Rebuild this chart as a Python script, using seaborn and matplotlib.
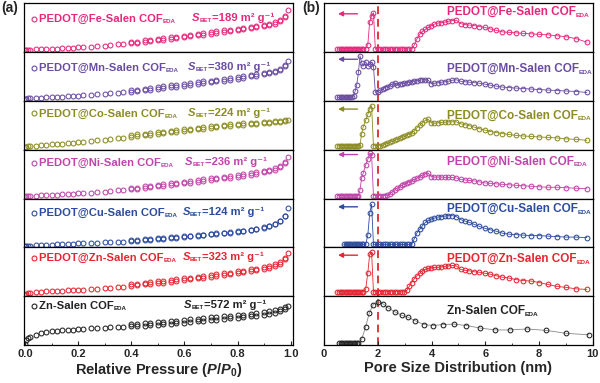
import numpy as np
import seaborn as sns
from matplotlib import pyplot as plt
from matplotlib.ticker import MultipleLocator

# ---- (a) N2 isotherms, relative pressure and uptake (normalised per panel) ----
pressure = [0.001, 0.005, 0.01, 0.02, 0.04, 0.06, 0.08, 0.10, 0.12, 0.14, 0.16, 0.18,
            0.20, 0.22, 0.25, 0.27, 0.30, 0.32, 0.35, 0.37, 0.40, 0.42, 0.45, 0.47,
            0.50, 0.52, 0.55, 0.57, 0.60, 0.62, 0.65, 0.67, 0.70, 0.72, 0.75, 0.77,
            0.80, 0.82, 0.85, 0.87, 0.90, 0.92, 0.94, 0.96, 0.98, 0.99]
des_pressure = [0.40, 0.42, 0.45, 0.47, 0.50, 0.52, 0.55, 0.57, 0.60, 0.62, 0.65, 0.67,
                0.70, 0.72, 0.75, 0.77, 0.80, 0.82, 0.85, 0.87, 0.90, 0.92, 0.94, 0.96, 0.98]

fe_ads = [0.03, 0.035, 0.04, 0.045, 0.05, 0.055, 0.06, 0.065, 0.07, 0.075, 0.08, 0.09,
          0.095, 0.10, 0.11, 0.12, 0.13, 0.14, 0.155, 0.165, 0.18, 0.19, 0.21, 0.22,
          0.24, 0.25, 0.27, 0.285, 0.305, 0.32, 0.34, 0.355, 0.375, 0.39, 0.41, 0.425,
          0.445, 0.46, 0.485, 0.50, 0.53, 0.55, 0.58, 0.63, 0.72, 0.85]
fe_des = [0.20, 0.21, 0.235, 0.25, 0.27, 0.28, 0.30, 0.315, 0.335, 0.35, 0.37, 0.385,
          0.405, 0.42, 0.44, 0.455, 0.475, 0.49, 0.515, 0.53, 0.56, 0.58, 0.61, 0.66, 0.74]
mn_ads = [0.04, 0.045, 0.05, 0.055, 0.06, 0.065, 0.07, 0.075, 0.08, 0.085, 0.09, 0.10,
          0.105, 0.11, 0.12, 0.13, 0.14, 0.15, 0.165, 0.175, 0.19, 0.20, 0.22, 0.23,
          0.25, 0.26, 0.28, 0.29, 0.31, 0.325, 0.345, 0.36, 0.38, 0.395, 0.415, 0.43,
          0.455, 0.47, 0.50, 0.515, 0.545, 0.565, 0.59, 0.63, 0.71, 0.82]
mn_des = [0.215, 0.225, 0.25, 0.26, 0.285, 0.295, 0.315, 0.325, 0.345, 0.36, 0.38, 0.395,
          0.415, 0.43, 0.45, 0.465, 0.49, 0.505, 0.53, 0.545, 0.57, 0.59, 0.615, 0.655, 0.73]
co_ads = [0.05, 0.06, 0.065, 0.07, 0.08, 0.09, 0.10, 0.11, 0.12, 0.125, 0.135, 0.145,
          0.155, 0.165, 0.18, 0.19, 0.205, 0.215, 0.235, 0.245, 0.265, 0.275, 0.29, 0.30,
          0.325, 0.335, 0.355, 0.365, 0.385, 0.395, 0.415, 0.425, 0.445, 0.455, 0.475, 0.485,
          0.50, 0.51, 0.52, 0.53, 0.54, 0.55, 0.56, 0.575, 0.595, 0.61]
co_des = [0.30, 0.31, 0.33, 0.34, 0.36, 0.37, 0.39, 0.40, 0.42, 0.43, 0.45, 0.46,
          0.48, 0.49, 0.505, 0.515, 0.53, 0.54, 0.55, 0.555, 0.565, 0.57, 0.58, 0.59, 0.60]
ni_ads = [0.04, 0.045, 0.05, 0.055, 0.06, 0.065, 0.07, 0.075, 0.08, 0.085, 0.09, 0.10,
          0.105, 0.11, 0.12, 0.13, 0.14, 0.15, 0.165, 0.175, 0.19, 0.20, 0.22, 0.23,
          0.25, 0.26, 0.28, 0.29, 0.31, 0.32, 0.34, 0.355, 0.375, 0.39, 0.41, 0.425,
          0.45, 0.465, 0.49, 0.505, 0.535, 0.555, 0.59, 0.64, 0.72, 0.84]
ni_des = [0.215, 0.225, 0.25, 0.26, 0.285, 0.295, 0.315, 0.325, 0.345, 0.355, 0.375, 0.39,
          0.41, 0.425, 0.445, 0.46, 0.485, 0.50, 0.525, 0.54, 0.565, 0.585, 0.615, 0.66, 0.74]
cu_ads = [0.02, 0.025, 0.03, 0.035, 0.04, 0.045, 0.05, 0.055, 0.06, 0.065, 0.07, 0.075,
          0.08, 0.085, 0.09, 0.095, 0.10, 0.105, 0.115, 0.12, 0.135, 0.14, 0.155, 0.16,
          0.175, 0.18, 0.195, 0.20, 0.215, 0.225, 0.24, 0.25, 0.265, 0.275, 0.29, 0.30,
          0.32, 0.33, 0.355, 0.37, 0.40, 0.43, 0.47, 0.53, 0.64, 0.81]
cu_des = [0.145, 0.15, 0.165, 0.17, 0.185, 0.19, 0.205, 0.21, 0.225, 0.235, 0.25, 0.26,
          0.275, 0.285, 0.30, 0.31, 0.33, 0.34, 0.365, 0.38, 0.41, 0.44, 0.48, 0.54, 0.65]
zn_ads = [0.02, 0.04, 0.06, 0.075, 0.09, 0.095, 0.10, 0.105, 0.11, 0.115, 0.12, 0.125,
          0.13, 0.135, 0.145, 0.15, 0.16, 0.17, 0.185, 0.195, 0.21, 0.22, 0.24, 0.25,
          0.27, 0.28, 0.30, 0.31, 0.33, 0.345, 0.365, 0.38, 0.40, 0.415, 0.435, 0.45,
          0.475, 0.49, 0.515, 0.53, 0.56, 0.585, 0.615, 0.66, 0.76, 0.89]
zn_des = [0.245, 0.255, 0.275, 0.285, 0.305, 0.315, 0.335, 0.345, 0.365, 0.38, 0.40, 0.415,
          0.435, 0.45, 0.47, 0.485, 0.51, 0.525, 0.55, 0.565, 0.595, 0.62, 0.65, 0.70, 0.78]
znsalen_ads = [0.03, 0.10, 0.14, 0.17, 0.21, 0.24, 0.26, 0.28, 0.29, 0.30, 0.31, 0.315,
               0.32, 0.33, 0.34, 0.345, 0.355, 0.36, 0.37, 0.375, 0.385, 0.39, 0.40, 0.41,
               0.42, 0.43, 0.44, 0.45, 0.46, 0.47, 0.485, 0.495, 0.51, 0.52, 0.535, 0.545,
               0.56, 0.57, 0.59, 0.60, 0.625, 0.64, 0.66, 0.69, 0.74, 0.80]
znsalen_des = [0.425, 0.435, 0.445, 0.455, 0.47, 0.48, 0.49, 0.50, 0.515, 0.525, 0.54, 0.55,
               0.565, 0.575, 0.59, 0.60, 0.615, 0.625, 0.64, 0.655, 0.675, 0.69, 0.71, 0.74, 0.78]

# ---- (b) pore size distributions ----
pore_width = [0.50, 0.56, 0.62, 0.68, 0.74, 0.80, 0.86, 0.92, 0.98, 1.04, 1.10, 1.16, 1.22, 1.28, 1.34, 1.40, 1.46,
              1.55, 1.63, 1.70, 1.77, 1.84,
              1.91, 2.00, 2.09, 2.18, 2.27, 2.36, 2.45, 2.54, 2.63, 2.72, 2.81, 2.90, 2.99, 3.08, 3.17, 3.26,
              3.36, 3.46, 3.56, 3.66, 3.77, 3.88, 3.99, 4.11, 4.23, 4.36, 4.49, 4.63, 4.77, 4.92,
              5.08, 5.24, 5.41, 5.59, 5.78, 5.98, 6.19, 6.41, 6.64, 6.89, 7.15, 7.42, 7.71, 8.01, 8.33,
              8.67, 9.02, 9.39, 9.78]
nan = np.nan
fe_psd = [0.06, 0.06, 0.06, 0.06, 0.06, 0.06, 0.06, 0.06, 0.06, 0.06, 0.06, 0.06, 0.06, 0.06, 0.06, 0.06, 0.06,
          0.07, 0.15, 0.62, 0.74, 0.80,
          0.06, 0.06, 0.06, 0.06, 0.06, 0.06, 0.06, 0.06, 0.06, 0.06, 0.06, 0.06, 0.06, 0.06, 0.06, 0.06,
          0.14, 0.27, 0.36, 0.42, 0.46, 0.50, 0.54, 0.57, 0.59, 0.60, 0.61, 0.63, 0.64, 0.65,
          0.58, 0.56, 0.55, 0.54, 0.52, 0.50, 0.47, 0.44, 0.41, 0.40, 0.39, 0.38, 0.37, 0.36, 0.35,
          0.33, 0.31, 0.27, 0.20]
mn_psd = [0.07, 0.07, 0.07, 0.07, 0.07, 0.07, 0.07, 0.07, 0.07, 0.07, 0.10, 0.20, 0.33, 0.58, 0.92, 0.78, 0.72,
          0.80, 0.72, 0.75, 0.79, 0.70,
          0.17, 0.19, 0.22, 0.24, 0.27, 0.29, 0.31, 0.34, 0.37, 0.33, 0.34, 0.35, 0.36, 0.37, 0.38, 0.39,
          0.40, 0.41, 0.42, 0.43, 0.43, 0.42, 0.35, 0.36, 0.37, 0.38, 0.39, 0.40, 0.42, 0.43,
          0.40, 0.39, 0.38, 0.37, 0.36, 0.34, 0.32, 0.30, 0.28, 0.27, 0.26, 0.25, 0.24, 0.23, 0.22,
          0.21, 0.20, 0.19, 0.17]
co_psd = [0.08, 0.08, 0.08, 0.08, 0.08, 0.08, 0.08, 0.08, 0.08, 0.08, 0.08, 0.08, 0.08, 0.08, 0.10, 0.32, 0.47,
          0.60, 0.72, 0.84, 0.90, 0.08,
          0.08, 0.08, 0.08, 0.09, 0.11, 0.13, 0.15, 0.17, 0.19, 0.21, 0.23, 0.25, 0.27, 0.30, 0.32, 0.35,
          0.39, 0.45, 0.50, 0.55, 0.60, 0.62, 0.55, 0.54, 0.55, 0.56, 0.56, 0.57, 0.57, 0.57,
          0.53, 0.51, 0.49, 0.46, 0.43, 0.40, 0.37, 0.35, 0.33, 0.31, 0.29, 0.28, 0.27, 0.26, 0.25,
          0.24, 0.22, 0.21, 0.19]
ni_psd = [0.06, 0.06, 0.06, 0.06, 0.06, 0.06, 0.06, 0.06, 0.06, 0.06, 0.06, 0.06, 0.06, 0.06, 0.18, 0.42, 0.52,
          0.69, 0.80, 0.93, 0.90, 0.06,
          0.06, 0.06, 0.06, 0.06, 0.06, 0.07, 0.10, 0.14, 0.18, 0.21, 0.24, 0.27, 0.30, 0.32, 0.34, 0.36,
          0.39, 0.42, 0.45, 0.48, 0.51, 0.52, 0.45, 0.44, 0.44, 0.44, 0.43, 0.43, 0.43, 0.42,
          0.39, 0.38, 0.37, 0.36, 0.34, 0.32, 0.31, 0.30, 0.29, 0.28, 0.27, 0.26, 0.25, 0.24, 0.23,
          0.23, 0.22, 0.21, 0.20]
cu_psd = [nan, nan, nan, nan, 0.06, 0.06, 0.06, 0.06, 0.06, 0.06, 0.06, 0.06, 0.06, 0.06, 0.06, 0.06, 0.06,
          0.06, 0.25, 0.70, 0.88, 0.06,
          0.06, 0.06, 0.06, 0.06, 0.06, 0.06, 0.06, 0.06, 0.06, 0.06, 0.06, 0.06, 0.06, 0.06, 0.06, 0.06,
          0.18, 0.30, 0.37, 0.44, 0.51, 0.55, 0.58, 0.60, 0.62, 0.63, 0.64, 0.65, 0.65, 0.63,
          0.57, 0.54, 0.51, 0.47, 0.43, 0.39, 0.36, 0.33, 0.29, 0.27, 0.26, 0.25, 0.24, 0.24, 0.23,
          0.22, 0.21, 0.21, 0.20]
zn_psd = [0.09, 0.09, 0.09, 0.09, 0.09, 0.09, 0.09, 0.09, 0.09, 0.09, 0.09, 0.09, 0.09, 0.09, 0.09, 0.09, 0.09,
          0.14, 0.48, 0.86, 0.90, 0.09,
          0.09, 0.09, 0.09, 0.09, 0.09, 0.09, 0.09, 0.09, 0.09, 0.09, 0.09, 0.09, 0.09, 0.12, 0.20, 0.28,
          0.36, 0.42, 0.47, 0.52, 0.55, 0.57, 0.58, 0.59, 0.59, 0.60, 0.61, 0.62, 0.63, 0.62,
          0.55, 0.53, 0.52, 0.50, 0.49, 0.47, 0.45, 0.42, 0.39, 0.37, 0.34, 0.32, 0.31, 0.28, 0.24,
          0.20, 0.18, 0.15, 0.14]
znsalen_width = [0.56, 0.62, 0.68, 0.74, 0.80, 0.86, 0.92, 0.98, 1.04, 1.10, 1.16, 1.22, 1.28,
                 1.40, 1.55, 1.68, 1.83, 2.00, 2.18, 2.39, 2.64, 2.89, 3.13, 3.38, 3.72, 4.06,
                 4.43, 4.83, 5.30, 5.80, 6.36, 6.91, 7.56, 8.27, 9.02, 9.86]
znsalen_psd = [0.04, 0.04, 0.04, 0.04, 0.04, 0.04, 0.04, 0.04, 0.04, 0.04, 0.04, 0.04, 0.04,
               0.12, 0.37, 0.65, 0.83, 0.89, 0.85, 0.76, 0.68, 0.61, 0.57, 0.50, 0.42, 0.40,
               0.42, 0.43, 0.40, 0.35, 0.31, 0.31, 0.33, 0.30, 0.24, 0.21]

samples = ['PEDOT@Fe-Salen COF', 'PEDOT@Mn-Salen COF', 'PEDOT@Co-Salen COF', 'PEDOT@Ni-Salen COF',
           'PEDOT@Cu-Salen COF', 'PEDOT@Zn-Salen COF', 'Zn-Salen COF']
s_bet = [189, 380, 224, 236, 124, 323, 572]
ads = [fe_ads, mn_ads, co_ads, ni_ads, cu_ads, zn_ads, znsalen_ads]
des = [fe_des, mn_des, co_des, ni_des, cu_des, zn_des, znsalen_des]
psd_x = [pore_width] * 6 + [znsalen_width]
psd_y = [fe_psd, mn_psd, co_psd, ni_psd, cu_psd, zn_psd, znsalen_psd]

colors = ['#E6287D', '#6A4CA2', '#8C8C22', '#C044A9', '#2D4C9F', '#E52530', '#222222']
line_colors = colors[:6] + ['#888888']
label_y_a = [0.67, 0.68, 0.74, 0.73, 0.71, 0.79, 0.80]
sbet_x = [0.625, 0.61, 0.61, 0.60, 0.59, 0.59, 0.595]
label_y_b = [0.82, 0.65, 0.70, 0.76, 0.78, 0.76, 0.69]
arrow_y = [0.78, 0.85, 0.83, 0.90, 0.83, 0.84]


def sub_text(ax, x, y, main, sub, color, size, transform, style='normal'):
    # main text followed by a small bold subscript
    t = ax.text(x, y, main, color=color, fontsize=size, fontweight='bold', fontstyle=style,
                va='center', ha='left', transform=transform)
    s = ax.annotate(sub, xy=(1, 0), xycoords=t, color=color, fontsize=size * 0.55,
                    fontweight='bold', va='bottom', ha='left')
    return t, s


sns.set_theme(style='ticks')
plt.rcParams['font.family'] = ['Liberation Sans', 'DejaVu Sans']
plt.rcParams['font.weight'] = 'bold'
plt.rcParams['mathtext.fontset'] = 'custom'
plt.rcParams['mathtext.rm'] = 'Liberation Sans:bold'
plt.rcParams['mathtext.it'] = 'Liberation Sans:bold:italic'
plt.rcParams['axes.edgecolor'] = 'black'
plt.rcParams['axes.linewidth'] = 0.9

fig = plt.figure(figsize=(6, 3.83), dpi=100)
gs_a = fig.add_gridspec(7, 1, left=0.04, right=0.488, top=0.992, bottom=0.099, hspace=0)
gs_b = fig.add_gridspec(7, 1, left=0.54, right=0.988, top=0.992, bottom=0.099, hspace=0)

for i in range(7):
    c = colors[i]
    # isotherm panel
    ax = fig.add_subplot(gs_a[i])
    for xs, ys in [(pressure, ads[i]), (des_pressure, des[i])]:
        sns.lineplot(x=xs, y=ys, ax=ax, estimator=None, sort=False, linestyle='none',
                     marker='o', markersize=3.5, markerfacecolor='none',
                     markeredgecolor=c, markeredgewidth=0.75, color=c)
    ax.set_xlim(-0.004, 1.008)
    ax.set_ylim(0, 1)
    ax.set_yticks([])
    ax.set_xlabel('')
    ax.set_ylabel('')
    ax.plot([0.036], [label_y_a[i]], 'o', transform=ax.transAxes, mfc='none', mec=c, ms=3.5, mew=0.8)
    sub_text(ax, 0.055, label_y_a[i], samples[i], 'EDA', c, 8.1, ax.transAxes)
    t, s = sub_text(ax, sbet_x[i], label_y_a[i] + 0.02, 'S', 'BET', c, 8.1, ax.transAxes, style='italic')
    ax.annotate('=%d m\u00b2 g\u207b\u00b9' % s_bet[i], xy=(1, 0), xycoords=(s, t), color=c,
                fontsize=8.1, fontweight='bold', va='bottom', ha='left')

    # pore size panel
    bx = fig.add_subplot(gs_b[i])
    sns.lineplot(x=psd_x[i], y=psd_y[i], ax=bx, estimator=None, sort=False,
                 color=line_colors[i], lw=0.6, marker='o', markersize=3.4,
                 markerfacecolor='none', markeredgecolor=c, markeredgewidth=0.75)
    bx.axvline(2, color='#E03A3A', ls=(0, (4, 2.5)), lw=1.4, zorder=0)
    bx.set_xlim(0, 10)
    bx.set_ylim(0, 1)
    bx.set_yticks([])
    bx.set_xlabel('')
    bx.set_ylabel('')
    sub_text(bx, 4.57, label_y_b[i], samples[i], 'EDA', c, 8.5, bx.get_xaxis_transform())
    if i < 6:
        bx.annotate('', xy=(0.42, arrow_y[i]), xytext=(1.35, arrow_y[i]),
                    xycoords=('data', 'axes fraction'),
                    arrowprops=dict(arrowstyle='-|>', color=c, lw=1.0, mutation_scale=7))

    for a in (ax, bx):
        if i < 6:
            a.tick_params(bottom=False, labelbottom=False, left=False)
        else:
            a.tick_params(axis='x', which='both', direction='in', labelsize=8, pad=3)
            a.tick_params(axis='x', which='major', length=3, width=0.8)
            a.tick_params(axis='x', which='minor', length=1.8, width=0.6)
            a.tick_params(left=False)

    if i == 6:
        ax.xaxis.set_major_locator(MultipleLocator(0.2))
        ax.xaxis.set_minor_locator(MultipleLocator(0.1))
        ax.xaxis.set_major_formatter(plt.FormatStrFormatter('%.1f'))
        bx.xaxis.set_major_locator(MultipleLocator(2))
        bx.xaxis.set_minor_locator(MultipleLocator(1))
        ax.set_xlabel(r'Relative Pressure ($\mathit{P}$/$\mathit{P}_{0}$)', fontsize=10.5,
                      fontweight='bold', labelpad=1)
        bx.set_xlabel('Pore Size Distribution (nm)', fontsize=10.5, fontweight='bold', labelpad=1)
        for a in (ax, bx):
            for lab in a.get_xticklabels():
                lab.set_fontweight('bold')

fig.text(0.002, 0.978, '(a)', fontsize=10, fontweight='bold', va='center', ha='left')
fig.text(0.503, 0.978, '(b)', fontsize=10, fontweight='bold', va='center', ha='left')

fig.savefig('out.png', dpi=100)
